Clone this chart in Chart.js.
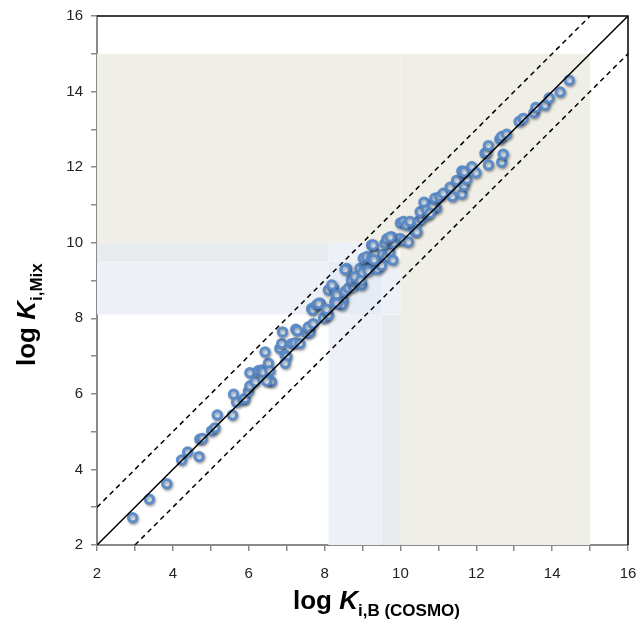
<!DOCTYPE html>
<html>
<head>
<meta charset="utf-8">
<script src="https://cdn.jsdelivr.net/npm/chart.js@4/dist/chart.umd.min.js"></script>
<style>
  html, body { margin: 0; padding: 0; background: #fff; }
  #wrap { width: 638px; height: 626px; }
</style>
</head>
<body>
<div id="wrap"><canvas id="kChart" width="638" height="626"></canvas></div>
<script>
// log K (COSMO) vs log K (mixture) for each compound
const cosmoValues = [
  2.94, 3.38, 3.84, 4.23, 4.39, 4.69, 4.71, 4.78, 5.02, 5.11,
  5.17, 5.57, 5.60, 5.68, 5.86, 5.90, 5.99, 6.03, 6.03, 6.17,
  6.25, 6.34, 6.38, 6.52, 6.56, 6.43, 6.52, 6.60, 6.47, 6.82,
  6.87, 6.96, 7.00, 6.96, 6.89, 7.13, 7.22, 7.35, 7.24, 7.28,
  7.53, 7.62, 7.57, 7.70, 7.66, 7.69, 7.79, 7.88, 7.84, 8.01,
  7.97, 8.10, 8.05, 8.10, 8.23, 8.19, 8.27, 8.36, 8.49, 8.45,
  8.32, 8.32, 8.54, 8.63, 8.76, 8.71, 8.84, 8.89, 8.98, 8.58,
  8.54, 8.93, 9.06, 9.11, 9.20, 9.24, 9.28, 9.37, 9.46, 9.02,
  9.11, 9.24, 9.33, 9.24, 9.28, 9.53, 9.64, 9.72, 9.80, 9.59,
  9.68, 9.77, 9.90, 9.99, 10.08, 10.21, 9.81, 9.64, 9.73, 10.00,
  10.08, 10.16, 10.34, 10.38, 10.25, 10.47, 10.43, 10.56, 10.69, 10.78,
  10.65, 10.86, 10.95, 10.52, 10.62, 10.69, 10.85, 10.78, 10.91, 11.04,
  11.13, 11.31, 11.37, 11.48, 11.62, 11.68, 11.75, 11.62, 11.68, 11.88,
  11.99, 12.23, 12.27, 12.32, 12.32, 12.67, 12.71, 12.62, 12.67, 12.80,
  13.13, 13.24, 13.52, 13.57, 13.81, 13.92, 14.21, 14.45,
  8.80, 9.00, 9.15, 9.40, 9.50, 8.95, 9.30
];
const mixValues = [
  2.72, 3.21, 3.62, 4.25, 4.46, 4.34, 4.80, 4.82, 5.02, 5.10,
  5.44, 5.44, 5.99, 5.78, 5.84, 5.88, 6.06, 6.21, 6.56, 6.32,
  6.61, 6.63, 6.58, 6.81, 6.61, 7.11, 6.37, 6.32, 6.34, 7.20,
  7.33, 7.03, 6.99, 6.81, 7.64, 7.33, 7.35, 7.33, 7.71, 7.67,
  7.60, 7.64, 7.77, 7.86, 8.26, 8.22, 8.35, 8.40, 8.39, 8.05,
  8.00, 8.09, 8.24, 8.75, 8.80, 8.88, 8.44, 8.59, 8.48, 8.35,
  8.62, 8.40, 8.71, 8.80, 8.84, 9.01, 8.97, 9.06, 8.88, 9.32,
  9.29, 9.32, 9.36, 9.45, 9.41, 9.50, 9.36, 9.45, 9.54, 9.59,
  9.63, 9.59, 9.72, 9.94, 9.94, 9.69, 9.63, 9.76, 9.54, 9.98,
  10.11, 10.15, 10.06, 10.11, 10.06, 10.02, 9.99, 10.10, 10.15, 10.52,
  10.56, 10.47, 10.47, 10.30, 10.56, 10.56, 10.29, 10.64, 10.73, 10.95,
  11.04, 11.04, 10.91, 10.82, 11.07, 10.87, 10.95, 10.78, 11.18, 11.22,
  11.31, 11.47, 11.22, 11.65, 11.29, 11.51, 11.68, 11.90, 11.88, 12.01,
  11.85, 12.37, 12.39, 12.57, 12.06, 12.13, 12.34, 12.74, 12.81, 12.87,
  13.21, 13.29, 13.44, 13.58, 13.64, 13.83, 13.99, 14.30,
  9.10, 9.20, 9.25, 9.30, 9.40, 9.00, 9.55
];

// axis range and labelled ticks
const axisMin = 2;
const axisMax = 16;
const tickLabels = ['2', '4', '6', '8', '10', '12', '14', '16'];

// parity line and +/- 1 log unit bands
const lineOffsets = [0, 1, -1];

// shaded regions: [xFrom, xTo, yFrom, yTo]
const beigeRegions = [[10, 15, 2, 15], [2, 10, 10, 15]];
const greyRegions = [[2, 8.1, 9.5, 10], [9.5, 10, 2, 8.1]];
const blueRegions = [[2, 8.1, 8.1, 9.5], [8.1, 9.5, 2, 8.1], [8.1, 9.5, 9.5, 10], [9.5, 10, 8.1, 9.5]];
const overlapRegions = [[8.1, 9.5, 8.1, 9.5]];

const points = cosmoValues.map((x, i) => ({ x: x, y: mixValues[i] }));

function offsetLine(off) {
  const x0 = Math.max(axisMin, axisMin - off);
  const x1 = Math.min(axisMax, axisMax - off);
  return [{ x: x0, y: x0 + off }, { x: x1, y: x1 + off }];
}

const shadePlugin = {
  id: 'shade',
  beforeDatasetsDraw(chart) {
    const ctx = chart.ctx;
    const xs = chart.scales.x, ys = chart.scales.y;
    const fill = (list, color) => {
      ctx.fillStyle = color;
      list.forEach(r => {
        const l = xs.getPixelForValue(r[0]), rt = xs.getPixelForValue(r[1]);
        const t = ys.getPixelForValue(r[3]), b = ys.getPixelForValue(r[2]);
        ctx.fillRect(l, t, rt - l, b - t);
      });
    };
    ctx.save();
    fill(beigeRegions, '#efeee7');
    fill(greyRegions, '#e8ebee');
    fill(blueRegions, '#edf1f7');
    fill(overlapRegions, '#e6ecf5');
    ctx.restore();
  }
};

const shadowPlugin = {
  id: 'pointShadow',
  beforeDatasetDraw(chart, args) {
    if (args.index !== 3) return;
    const ctx = chart.ctx;
    ctx.save();
    ctx.shadowColor = 'rgba(0, 0, 0, 0.35)';
    ctx.shadowBlur = 3;
    ctx.shadowOffsetX = 1;
    ctx.shadowOffsetY = 1.5;
  },
  afterDatasetDraw(chart, args) {
    if (args.index !== 3) return;
    chart.ctx.restore();
  }
};

const framePlugin = {
  id: 'frame',
  afterDatasetsDraw(chart) {
    const { ctx, chartArea: a } = chart;
    ctx.save();
    ctx.strokeStyle = '#000';
    ctx.lineWidth = 1.5;
    ctx.beginPath();
    ctx.moveTo(a.left, a.top);
    ctx.lineTo(a.right, a.top);
    ctx.lineTo(a.right, a.bottom);
    ctx.stroke();
    ctx.restore();
  }
};

// axis titles with italic K and subscripts
function drawTitle(ctx, x, y, sub) {
  const big = 'bold 26px "Liberation Sans", Arial, sans-serif';
  const bigIt = 'italic bold 26px "Liberation Sans", Arial, sans-serif';
  const small = 'bold 17px "Liberation Sans", Arial, sans-serif';
  ctx.textBaseline = 'alphabetic';
  ctx.textAlign = 'left';
  ctx.font = big;
  ctx.fillText('log ', x, y);
  let w = ctx.measureText('log ').width;
  ctx.font = bigIt;
  ctx.fillText('K', x + w, y);
  w += ctx.measureText('K').width;
  ctx.font = small;
  ctx.fillText(sub, x + w, y + 7);
}

const titlePlugin = {
  id: 'axisTitles',
  afterDraw(chart) {
    const ctx = chart.ctx;
    ctx.save();
    ctx.fillStyle = '#000';
    drawTitle(ctx, 293, 609, 'i,B (COSMO)');
    ctx.translate(35, 366);
    ctx.rotate(-Math.PI / 2);
    drawTitle(ctx, 0, 0, 'i,Mix');
    ctx.restore();
  }
};

const lineStyle = {
  type: 'line',
  borderColor: '#000',
  borderWidth: 1.5,
  pointRadius: 0,
  fill: false,
  order: 0
};

const tickFont = { family: '"Liberation Sans", Arial, sans-serif', size: 15 };

new Chart(document.getElementById('kChart'), {
  type: 'scatter',
  data: {
    datasets: [
      Object.assign({ data: offsetLine(lineOffsets[0]) }, lineStyle),
      Object.assign({ data: offsetLine(lineOffsets[1]), borderDash: [5, 4] }, lineStyle),
      Object.assign({ data: offsetLine(lineOffsets[2]), borderDash: [5, 4] }, lineStyle),
      {
        data: points,
        pointRadius: 4.2,
        pointHoverRadius: 4.2,
        borderWidth: 3,
        borderColor: 'rgba(88, 138, 200, 0.95)',
        backgroundColor: '#dde9f7',
        order: 1
      }
    ]
  },
  options: {
    responsive: false,
    animation: false,
    events: [],
    layout: { padding: { left: 0, right: 10, top: 16, bottom: 0 } },
    plugins: { legend: { display: false }, tooltip: { enabled: false } },
    scales: {
      x: {
        type: 'linear',
        min: axisMin,
        max: axisMax,
        afterFit(scale) {
          scale.height = 81;
          scale.paddingLeft = 0;
          scale.paddingRight = 0;
        },
        border: { color: '#8a8a8a', width: 2 },
        grid: { drawOnChartArea: false, drawTicks: true, tickLength: 6, color: '#8a8a8a', lineWidth: 1.5 },
        ticks: {
          stepSize: 1,
          padding: 14,
          maxRotation: 0,
          autoSkip: false,
          color: '#222',
          font: tickFont,
          callback: v => tickLabels.includes(String(v)) ? String(v) : ''
        }
      },
      y: {
        type: 'linear',
        min: axisMin,
        max: axisMax,
        afterFit(scale) {
          scale.width = 97;
          scale.paddingTop = 0;
          scale.paddingBottom = 0;
        },
        border: { color: '#8a8a8a', width: 2 },
        grid: { drawOnChartArea: false, drawTicks: true, tickLength: 6, color: '#8a8a8a', lineWidth: 1.5 },
        ticks: {
          stepSize: 1,
          padding: 8,
          autoSkip: false,
          color: '#222',
          font: tickFont,
          callback: v => tickLabels.includes(String(v)) ? String(v) : ''
        }
      }
    }
  },
  plugins: [shadePlugin, shadowPlugin, framePlugin, titlePlugin]
});
</script>
</body>
</html>
